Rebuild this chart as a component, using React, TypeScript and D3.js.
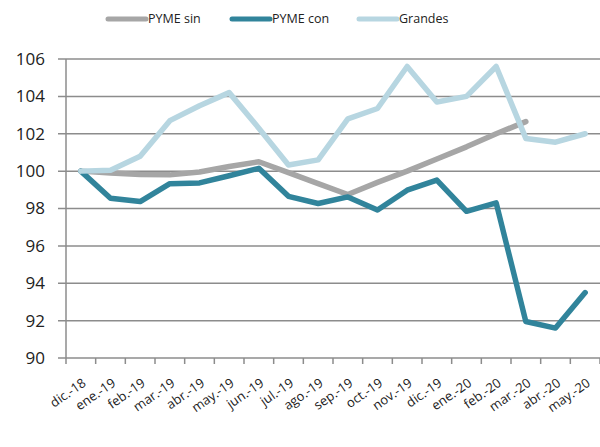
import React from "react";
import * as d3 from "d3";

const categories = [
  "dic.-18", "ene.-19", "feb.-19", "mar.-19", "abr.-19", "may.-19", "jun.-19",
  "jul.-19", "ago.-19", "sep.-19", "oct.-19", "nov.-19", "dic.-19", "ene.-20",
  "feb.-20", "mar.-20", "abr.-20", "may.-20",
];

const pymeSin = [100, 99.9, 99.82, 99.8, 99.95, 100.25, 100.5, 99.92, 99.33, 98.75, 99.4, 100.0, 100.65, 101.3, 102.0, 102.65];
const pymeCon = [100, 98.55, 98.37, 99.33, 99.37, 99.75, 100.15, 98.65, 98.27, 98.62, 97.92, 98.98, 99.52, 97.85, 98.3, 91.95, 91.6, 93.5];
const grandes = [100, 100.05, 100.8, 102.7, 103.5, 104.2, 102.3, 100.33, 100.6, 102.8, 103.35, 105.6, 103.7, 104.0, 105.6, 101.75, 101.55, 102.0];

const yTicks = [90, 92, 94, 96, 98, 100, 102, 104, 106];

const seriesNames = ["PYME sin", "PYME con", "Grandes"];
const seriesColors = ["#A6A6A6", "#31849B", "#B7D6E1"];

export default function App() {
  const W = 600, H = 447;
  const left = 66, right = 600, top = 59, bottom = 358;
  const x = d3.scaleBand<string>().domain(categories).range([left, right]);
  const y = d3.scaleLinear().domain([90, 106]).range([bottom, top]);
  const line = d3.line<number>()
    .x((_, i) => (x(categories[i]) as number) + x.bandwidth() / 2)
    .y((d) => y(d));
  const data = [pymeSin, pymeCon, grandes];
  const font = "'Open Sans', 'DejaVu Sans', sans-serif";
  const legendX = [108, 232, 359];

  return (
    <svg width={W} height={H} style={{ position: "absolute", left: 0, top: 0 }}>
      <rect x={0} y={0} width={W} height={H} fill="#fff" />
      {yTicks.map((t) => (
        <g key={t}>
          <line x1={left - 8} x2={right} y1={y(t)} y2={y(t)} stroke="#8C8C8C" strokeWidth={1.5} />
          <text x={45} y={y(t)} dy="0.35em" textAnchor="end" fontFamily={font} fontSize={17} fill="#222">{t}</text>
        </g>
      ))}
      <line x1={left} x2={left} y1={top} y2={bottom + 6} stroke="#8C8C8C" strokeWidth={1.5} />
      {categories.map((c, i) => {
        const bx = (x(c) as number) + x.bandwidth();
        return <line key={"tk" + i} x1={bx} x2={bx} y1={bottom} y2={bottom + 6} stroke="#8C8C8C" strokeWidth={1.5} />;
      })}
      {categories.map((c) => {
        const cx = (x(c) as number) + x.bandwidth() / 2 + 6;
        const cy = 385;
        return (
          <text key={c} x={cx} y={cy} textAnchor="end" fontFamily={font} fontSize={13} fill="#222"
            transform={`rotate(-35 ${cx} ${cy})`}>{c}</text>
        );
      })}
      {data.map((d, k) => (
        <path key={k} d={line(d) || ""} fill="none" stroke={seriesColors[k]} strokeWidth={5.5}
          strokeLinejoin="round" strokeLinecap="round" />
      ))}
      {seriesNames.map((n, k) => (
        <g key={n}>
          <line x1={legendX[k]} x2={legendX[k] + 38} y1={19} y2={19} stroke={seriesColors[k]} strokeWidth={5} strokeLinecap="round" />
          <text x={legendX[k] + 40} y={19} dy="0.35em" fontFamily={font} fontSize={12.5} fill="#222">{n}</text>
        </g>
      ))}
    </svg>
  );
}
